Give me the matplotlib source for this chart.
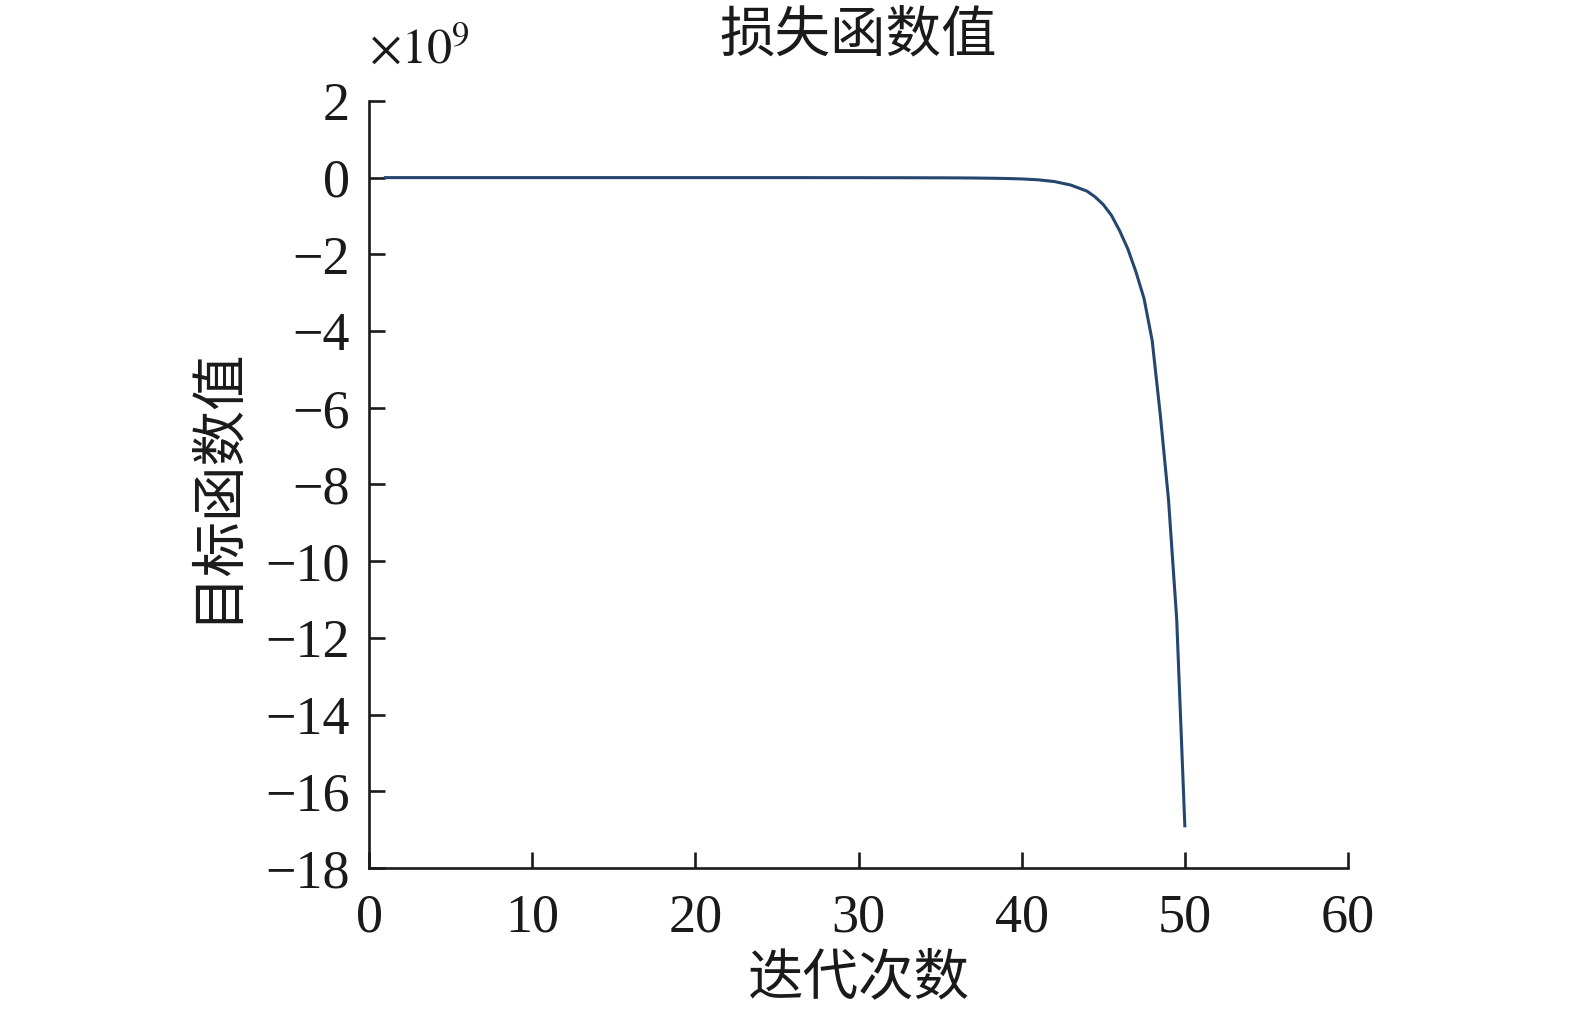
import numpy as np
import matplotlib
matplotlib.use('Agg')
import matplotlib.pyplot as plt

# loss value per iteration, in units of 1e9
iters = list(range(1, 45)) + [44.5, 45, 45.5, 46, 46.5, 47, 47.5, 48, 48.5, 49, 49.5, 50]
loss_e9 = [0.002, 0.002, 0.002, 0.002, 0.002, 0.002, 0.002, 0.002, 0.002, 0.002,
           0.002, 0.002, 0.002, 0.002, 0.002, 0.002, 0.002, 0.002, 0.002, 0.002,
           0.002, 0.002, 0.002, 0.002, 0.002, 0.002, 0.002, 0.001, 0.001, 0.001,
           0.0, 0.0, -0.001, -0.002, -0.003, -0.005, -0.008, -0.013, -0.02, -0.032,
           -0.055, -0.1, -0.19, -0.35,
           -0.5, -0.7, -0.98, -1.38, -1.85, -2.45, -3.15, -4.25, -6.2, -8.4, -11.5, -16.9]

xticks = [0, 10, 20, 30, 40, 50, 60]
yticks = list(range(-18, 3, 2))

title_txt = '损失函数值'
xlabel_txt = '迭代次数'
ylabel_txt = '目标函数值'
scale_txt = r'$\times10^{9}$'

plt.rcParams['font.family'] = ['Liberation Serif', 'Noto Sans CJK SC']
plt.rcParams['mathtext.fontset'] = 'stix'

fig = plt.figure(figsize=(15.75, 10.14), dpi=100)
ax = fig.add_axes([369/1575, 146/1014, (1348-369)/1575, (868-101)/1014])

ax.plot(iters, loss_e9, color='#24466f', lw=2.2)

ax.set_xlim(0, 60)
ax.set_ylim(-18, 2)
ax.set_xticks(xticks)
ax.set_yticks(yticks)
ax.set_yticklabels([str(v).replace('-', '\u2212') for v in yticks])

for s in ['top', 'right']:
    ax.spines[s].set_visible(False)
for s in ['left', 'bottom']:
    ax.spines[s].set_linewidth(1.9)
    ax.spines[s].set_color('#1a1a1a')

ax.tick_params(direction='in', length=11.5, width=1.9, labelsize=39, colors='#1a1a1a')
ax.tick_params(axis='y', pad=14)
ax.tick_params(axis='x', pad=18)

ax.set_title(title_txt, fontsize=40, pad=36, color='#1a1a1a')
ax.set_xlabel(xlabel_txt, fontsize=40, labelpad=8, color='#1a1a1a')
ax.set_ylabel(ylabel_txt, fontsize=40, labelpad=16, color='#1a1a1a')

fig.text(369/1575, 1 - 63/1014, scale_txt, fontsize=36, color='#1a1a1a',
         ha='left', va='baseline')

fig.savefig('out.png', dpi=100)
